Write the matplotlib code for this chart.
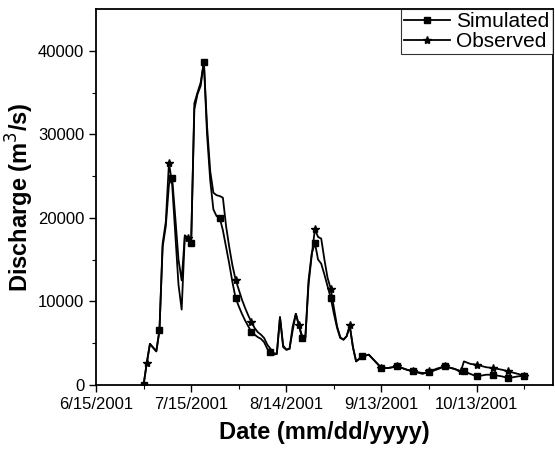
import datetime as dt
import matplotlib
matplotlib.use("Agg")
import matplotlib.pyplot as plt
import matplotlib.dates as mdates

plt.rcParams['font.family'] = ['Liberation Sans', 'DejaVu Sans']

# ── Data (day offset from 6/15/2001, discharge m3/s) ─────────────────────────
START = dt.date(2001, 6, 15)

days = [15, 16, 17, 19, 20, 21, 22, 23, 24, 25, 26, 27, 28, 29, 30, 31, 32,
        33, 34, 35, 36, 37, 38, 39, 40, 41, 42, 43, 44, 45, 46, 47, 48, 49,
        50, 51, 52, 53, 54, 55, 56, 57, 58, 59, 60, 61, 62, 63, 64, 65, 66,
        67, 68, 69, 70, 71, 72, 73, 74, 75, 76, 77, 78, 79, 80, 81, 82, 84,
        86, 88, 90, 92, 95, 98, 100, 103, 105, 108, 110, 113, 115, 116, 118,
        120, 123, 125, 128, 130, 133, 135]

simulated = [0, 2600, 4900, 4000, 6500, 16500, 19000, 24000, 24800, 20000,
             15000, 12500, 17800, 17500, 17000, 33700, 35000, 36200, 38700,
             30000, 24500, 21000, 20200, 20000, 18500, 16500, 14500, 12300,
             10400, 9400, 8500, 7700, 7000, 6300, 6000, 5700, 5500, 5100,
             4300, 3900, 3600, 3700, 8100, 4500, 4200, 4300, 6500, 8500,
             7000, 5600, 5600, 12500, 15700, 17000, 15000, 14500, 13200,
             11800, 10400, 8500, 6800, 5600, 5400, 5800, 7000, 4500, 2800,
             3400, 3600, 2800, 2000, 2000, 2200, 1800, 1600, 1400, 1500,
             1900, 2200, 1900, 1600, 1600, 1300, 1000, 1200, 1200, 1000,
             800, 1000, 1100]

observed = [0, 2600, 4900, 4000, 6500, 16900, 19500, 26600, 24000, 18000,
            12000, 9000, 17900, 17600, 17200, 33000, 34800, 35800, 38700,
            31000, 25600, 23000, 22700, 22600, 22400, 19000, 16500, 14300,
            12600, 11400, 10200, 9200, 8300, 7500, 6800, 6300, 6000, 5600,
            4800, 4300, 3800, 3700, 8100, 4700, 4200, 4300, 7000, 8500,
            7100, 5800, 5700, 12000, 15500, 18600, 17700, 17500, 15000,
            12800, 11500, 9200, 7000, 5700, 5400, 5800, 7100, 4500, 2800,
            3400, 3600, 2800, 2000, 2000, 2200, 1800, 1600, 1300, 1600,
            2000, 2200, 1900, 1600, 2800, 2500, 2400, 2100, 2000, 1800,
            1600, 1300, 1100]

sim_mark_days = [15, 20, 24, 30, 34, 39, 44, 49, 55, 65, 69, 74, 84, 90,
                 95, 100, 105, 110, 116, 120, 125, 130, 135]
obs_mark_days = [16, 23, 29, 44, 49, 64, 69, 74, 80, 90, 95, 100, 105, 110,
                 115, 120, 125, 130, 135]

tick_days   = [0, 30, 60, 90, 120]
tick_labels = ["6/15/2001", "7/15/2001", "8/14/2001", "9/13/2001", "10/13/2001"]


def to_num(offsets):
    return [mdates.date2num(START + dt.timedelta(days=d)) for d in offsets]


x = to_num(days)
sim_idx = [days.index(d) for d in sim_mark_days]
obs_idx = [days.index(d) for d in obs_mark_days]

# ── Figure ────────────────────────────────────────────────────────────────────
fig = plt.figure(figsize=(5.55, 4.5), dpi=100)
ax = fig.add_axes([0.173, 0.145, 0.823, 0.835])

ax.plot(x, simulated, color="black", linewidth=1.3, marker="s",
        markersize=4, markevery=sim_idx, label="Simulated")
ax.plot(x, observed, color="black", linewidth=1.3, marker="*",
        markersize=6, markevery=obs_idx, label="Observed")

ax.set_xlim(to_num([0])[0], to_num([144.5])[0])
ax.set_ylim(0, 45000)

ax.set_xticks(to_num(tick_days))
ax.set_xticklabels(tick_labels)
ax.set_xticks(to_num([15, 45, 75, 105, 135]), minor=True)
ax.set_yticks([0, 10000, 20000, 30000, 40000])
ax.set_yticks([5000, 15000, 25000, 35000], minor=True)

ax.tick_params(which="major", direction="out", length=5, width=1.0,
               labelsize=12, colors="black")
ax.tick_params(which="minor", direction="out", length=3, width=0.8)
for sp in ax.spines.values():
    sp.set_linewidth(1.3)

ax.set_xlabel("Date (mm/dd/yyyy)", fontsize=17, fontweight="bold", labelpad=7)
ax.set_ylabel("Discharge (m$^3$/s)", fontsize=17, fontweight="bold", labelpad=1)

leg = ax.legend(loc="upper right", fontsize=15, frameon=True, fancybox=False,
                handlelength=2.2, handletextpad=0.3, borderpad=0.15,
                labelspacing=0.05, borderaxespad=0.0)
leg.get_frame().set_edgecolor("black")
leg.get_frame().set_linewidth(0.8)

fig.savefig("out.png", dpi=100)
